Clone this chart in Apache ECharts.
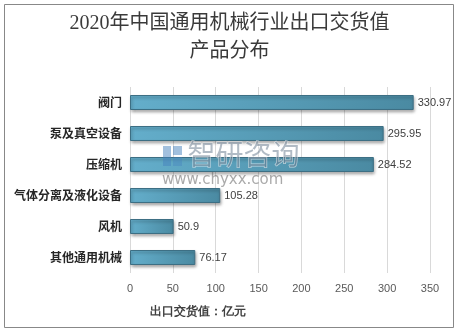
<!DOCTYPE html>
<html><head><meta charset="utf-8">
<script src="https://cdn.jsdelivr.net/npm/echarts@6/dist/echarts.min.js"></script>
<style>html,body{margin:0;padding:0;background:#fff}#c{width:459px;height:335px}</style>
</head><body><div id="c"></div>
<script>
const categories = ['阀门','泵及真空设备','压缩机','气体分离及液化设备','风机','其他通用机械'];
const values = [330.97, 295.95, 284.52, 105.28, 50.9, 76.17];
const xTicks = [0,50,100,150,200,250,300,350];

const chart = echarts.init(document.getElementById('c'));
chart.setOption({
  animation:false,
  backgroundColor:'#fff',
  graphic:[
    {type:'rect',shape:{x:4.5,y:4.5,width:449,height:323},style:{fill:'none',stroke:'#888',lineWidth:1}},
    {type:'text',left:'center',top:14,style:{text:'2020年中国通用机械行业出口交货值',font:'20px "Liberation Serif","Noto Sans CJK SC",serif',fill:'#3a3a3a'}},
    {type:'text',left:'center',top:42,style:{text:'产品分布',font:'20px "Liberation Serif","Noto Sans CJK SC",serif',fill:'#3a3a3a'}},
    {type:'rect',z:10,shape:{x:163,y:146,width:8,height:20},style:{fill:'rgba(70,130,190,0.5)'}},
    {type:'rect',z:10,shape:{x:173,y:146,width:9,height:9},style:{fill:'rgba(70,130,190,0.5)'}},
    {type:'rect',z:10,shape:{x:173,y:157,width:9,height:9},style:{fill:'rgba(70,130,190,0.4)'}},
    {type:'text',left:187,top:140,z:10,style:{text:'智研咨询',font:'28px "Noto Sans CJK SC",sans-serif',fill:'rgba(100,120,140,0.5)',stroke:'rgba(255,255,255,0.6)',lineWidth:1}},
    {type:'text',left:162,top:173,z:10,style:{text:'www.chyxx.com',font:'15px "DejaVu Sans",sans-serif',fill:'rgba(100,100,100,0.55)',letterSpacing:3.2}}
  ],
  grid:{left:130,right:29,top:87,bottom:62},
  xAxis:{type:'value',min:0,max:350,interval:50,
    axisLine:{show:false},axisTick:{show:false},
    splitLine:{lineStyle:{color:'#d9d9d9'}},
    axisLabel:{color:'#595959',fontSize:11,margin:10,fontFamily:'"Liberation Sans",sans-serif',
      formatter:v=>xTicks.includes(v)?String(v):''},
    name:'出口交货值：亿元',nameLocation:'start',nameGap:0,
    nameTextStyle:{fontWeight:'bold',fontSize:12,color:'#404040',align:'left',verticalAlign:'top',padding:[33,0,0,20]}
  },
  yAxis:{type:'category',data:categories,inverse:true,
    axisLine:{show:false},axisTick:{show:false},
    axisLabel:{fontWeight:'bold',fontSize:12,color:'#262626',margin:8,fontFamily:'"Noto Sans CJK SC",sans-serif'}
  },
  series:[{type:'bar',data:values,barWidth:15,
    itemStyle:{
      color:new echarts.graphic.LinearGradient(0,0,1,0,[{offset:0,color:'#64aecb'},{offset:1,color:'#4a8aa2'}]),
      borderColor:'#3d6f84',borderWidth:1,
      shadowColor:'rgba(0,0,0,0.35)',shadowBlur:3,shadowOffsetX:1,shadowOffsetY:2
    },
    label:{show:true,position:'right',distance:4,color:'#404040',fontSize:11,fontFamily:'"Liberation Sans",sans-serif'}
  }]
});
</script></body></html>
